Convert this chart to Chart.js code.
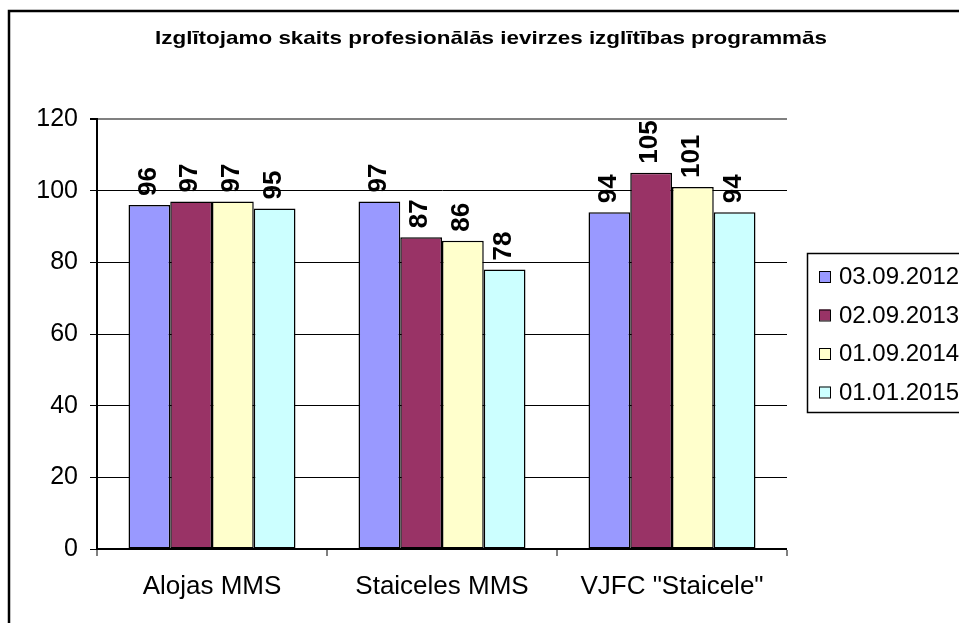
<!DOCTYPE html>
<html><head><meta charset="utf-8">
<script src="https://cdn.jsdelivr.net/npm/chart.js@4/dist/chart.umd.min.js"></script>
<style>html,body{margin:0;padding:0;background:#fff;}#wrap{width:959px;height:623px;position:relative}</style>
</head><body><div id="wrap"><canvas id="c" width="959" height="623"></canvas></div>
<script>
const categories = ['Alojas MMS', 'Staiceles MMS', 'VJFC "Staicele"'];
const seriesNames = ['03.09.2012', '02.09.2013', '01.09.2014', '01.01.2015'];
const s2012 = [96, 97, 94];
const s2013 = [97, 87, 105];
const s2014 = [97, 86, 101];
const s2015 = [95, 78, 94];
const yTicks = [0, 20, 40, 60, 80, 100, 120];
const colors = ['#9999FF', '#993366', '#FFFFCC', '#CCFFFF'];
const titleText = 'Izglītojamo skaits profesionālās ievirzes izglītības programmās';

const FONT = '"Liberation Sans", Arial, sans-serif';
Chart.defaults.font.family = FONT;
Chart.defaults.color = '#000';

const seriesData = [s2012, s2013, s2014, s2015];

const decor = {
  id: 'decor',
  beforeDraw(chart) {
    const ctx = chart.ctx;
    ctx.save();
    ctx.fillStyle = '#fff';
    ctx.fillRect(0, 0, chart.width, chart.height);
    ctx.restore();
  },
  afterDatasetsDraw(chart) {
    const ctx = chart.ctx;
    ctx.save();
    ctx.font = 'bold 26px ' + FONT;
    ctx.fillStyle = '#000';
    ctx.textAlign = 'left';
    ctx.textBaseline = 'middle';
    chart.data.datasets.forEach((ds, i) => {
      const meta = chart.getDatasetMeta(i);
      meta.data.forEach((bar, j) => {
        ctx.save();
        ctx.translate(bar.x - 1, bar.y - 9);
        ctx.rotate(-Math.PI / 2);
        ctx.fillText(String(ds.data[j]), 0, 0);
        ctx.restore();
      });
    });
    ctx.restore();
  },
  afterDraw(chart) {
    const ctx = chart.ctx;
    ctx.save();
    // outer border
    ctx.strokeStyle = '#000';
    ctx.lineWidth = 2.5;
    ctx.strokeRect(9, 11, 1000, 700);
    // title (horizontally stretched to match reference width)
    ctx.font = 'bold 19px ' + FONT;
    ctx.textAlign = 'center';
    ctx.textBaseline = 'alphabetic';
    ctx.fillStyle = '#000';
    const w = ctx.measureText(titleText).width;
    const sx = 672 / w;
    ctx.save();
    ctx.translate(491, 44);
    ctx.scale(sx, 1);
    ctx.fillText(titleText, 0, 0);
    ctx.restore();
    // legend
    ctx.lineWidth = 1.5;
    ctx.strokeStyle = '#000';
    ctx.strokeRect(807.5, 253.5, 170, 159);
    ctx.font = '24px ' + FONT;
    ctx.textAlign = 'left';
    ctx.textBaseline = 'middle';
    const ys = [276.5, 315, 353.5, 392];
    chart.data.datasets.forEach((ds, i) => {
      ctx.fillStyle = ds.backgroundColor;
      ctx.fillRect(819, ys[i] - 5.5, 11, 11);
      ctx.lineWidth = 1;
      ctx.strokeRect(819.5, ys[i] - 5, 11, 11);
      ctx.fillStyle = '#000';
      ctx.fillText(ds.label, 839, ys[i] + 1);
    });
    ctx.restore();
  }
};

new Chart(document.getElementById('c'), {
  type: 'bar',
  data: {
    labels: categories,
    datasets: seriesNames.map((n, i) => ({
      label: n,
      data: seriesData[i],
      backgroundColor: colors[i],
      borderColor: '#000',
      borderWidth: 1.5,
      borderSkipped: false,
      categoryPercentage: 0.726,
      barPercentage: 1.0
    }))
  },
  options: {
    responsive: false,
    animation: false,
    devicePixelRatio: 1,
    layout: { padding: { top: 119, right: 172, bottom: 0, left: 0 } },
    plugins: { legend: { display: false }, title: { display: false }, tooltip: { enabled: false } },
    scales: {
      x: {
        afterFit(s) { s.height = 74; },
        grid: {
          offset: true,
          drawOnChartArea: true,
          color: (c) => (c.index === categories.length ? '#808080' : 'rgba(0,0,0,0)'),
          lineWidth: (c) => (c.index === categories.length ? 2 : 0),
          tickColor: '#000',
          tickLength: 7,
          tickWidth: 1
        },
        border: { color: '#000', width: 2 },
        ticks: { font: { size: 26 }, color: '#000', padding: 15, maxRotation: 0, autoSkip: false }
      },
      y: {
        min: yTicks[0],
        max: yTicks[yTicks.length - 1],
        afterFit(s) { s.width = 97; },
        afterBuildTicks(s) { s.ticks = yTicks.map(v => ({ value: v })); },
        grid: {
          color: (c) => (c.tick && c.tick.value === 120 ? '#808080' : '#000'),
          lineWidth: (c) => (c.tick && c.tick.value === 120 ? 2 : 1),
          tickColor: '#000',
          tickLength: 7
        },
        border: { color: '#000', width: 2 },
        ticks: { font: { size: 25 }, color: '#000', padding: 12 }
      }
    }
  },
  plugins: [decor]
});
</script>
</body></html>
